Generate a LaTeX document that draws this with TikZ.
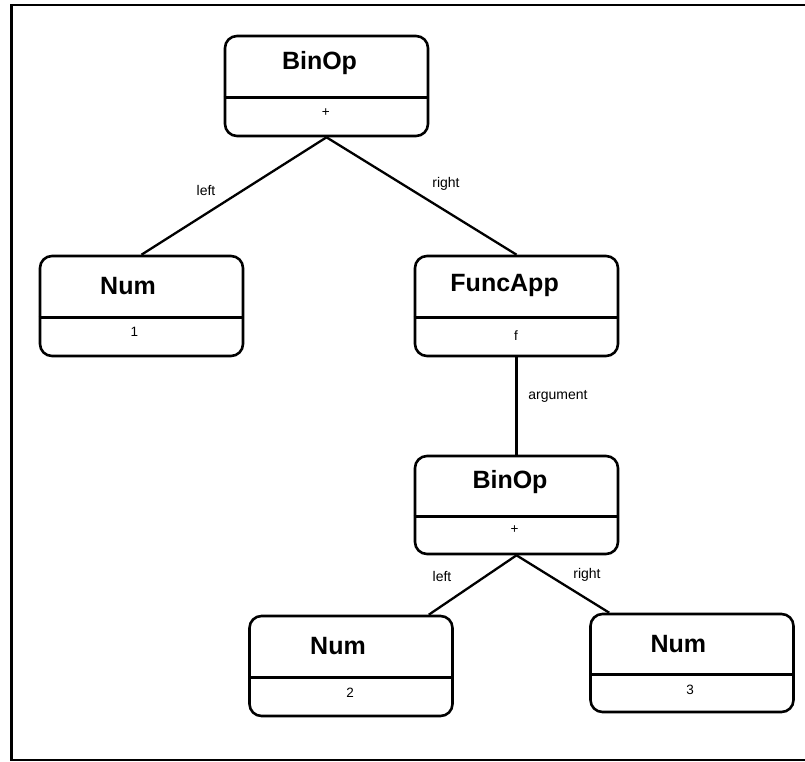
\documentclass[tikz,border=0pt]{standalone}
\usepackage{fontspec}
\setmainfont{Liberation Sans}
\begin{document}
\begin{tikzpicture}[x=1pt,y=-1pt,
  astbox/.style={draw, line width=2.6pt, rounded corners=12pt, minimum width=203pt, minimum height=100pt, inner sep=0pt},
  divider/.style={line width=2.6pt},
  title/.style={font=\fontsize{25}{30}\selectfont\bfseries, inner sep=0pt},
  body/.style={font=\fontsize{13.5}{16}\selectfont, inner sep=0pt},
  lbl/.style={font=\fontsize{14}{17}\selectfont, inner sep=0pt},
  link/.style={line width=2.3pt},
  frame/.style={line width=2.4pt}]
\useasboundingbox (0,0) rectangle (805,762);

% outer frame (open on the right)
\draw[frame] (805,5) -- (11.5,5) -- (11.5,760) -- (805,760);

% top BinOp
\node[astbox] (b1) at (326.5,86) {};
\draw[divider] ([yshift=-63pt]b1.north west) -- ([yshift=-63pt]b1.north east);
\node[title] (b1t) at (319.5,63.5) {BinOp};
\node[body] (b1b) at (325.7,113) {+};

% Num 1
\node[astbox] (n1) at (141.5,306) {};
\draw[divider] ([yshift=-63pt]n1.north west) -- ([yshift=-63pt]n1.north east);
\node[title] (n1t) at (128,286.5) {Num};
\node[body] (n1b) at (134.3,332) {1};

% FuncApp
\node[astbox] (fa) at (516.5,306) {};
\draw[divider] ([yshift=-63pt]fa.north west) -- ([yshift=-63pt]fa.north east);
\node[title] (fat) at (504.6,285.5) {FuncApp};
\node[body] (fab) at (516,336) {f};

% inner BinOp
\node[astbox, minimum height=98pt] (b2) at (516.5,505) {};
\draw[divider] ([yshift=-62pt]b2.north west) -- ([yshift=-62pt]b2.north east);
\node[title] (b2t) at (510,482) {BinOp};
\node[body] (b2b) at (514.5,530) {+};

% Num 2
\node[astbox] (n2) at (351,666) {};
\draw[divider] ([yshift=-63pt]n2.north west) -- ([yshift=-63pt]n2.north east);
\node[title] (n2t) at (338,646.5) {Num};
\node[body] (n2b) at (350,693) {2};

% Num 3
\node[astbox, minimum height=98pt] (n3) at (692,663) {};
\draw[divider] ([yshift=-62pt]n3.north west) -- ([yshift=-62pt]n3.north east);
\node[title] (n3t) at (678.3,644.5) {Num};
\node[body] (n3b) at (690,690) {3};

% connectors
\draw[link] (b1.south) -- (n1.north);
\draw[link] (b1.south) -- (fa.north);
\draw[link] (fa.south) -- (b2.north);
\draw[link] (b2.south) -- ([xshift=-25pt]n2.north east);
\draw[link] (b2.south) -- ([xshift=20pt]n3.north west);

% connector labels
\node[lbl] (l1) at (206,190) {left};
\node[lbl] (l2) at (446,184) {right};
\node[lbl] (l3) at (558,396) {argument};
\node[lbl] (l4) at (442,576) {left};
\node[lbl] (l5) at (587,575) {right};
\end{tikzpicture}
\end{document}
